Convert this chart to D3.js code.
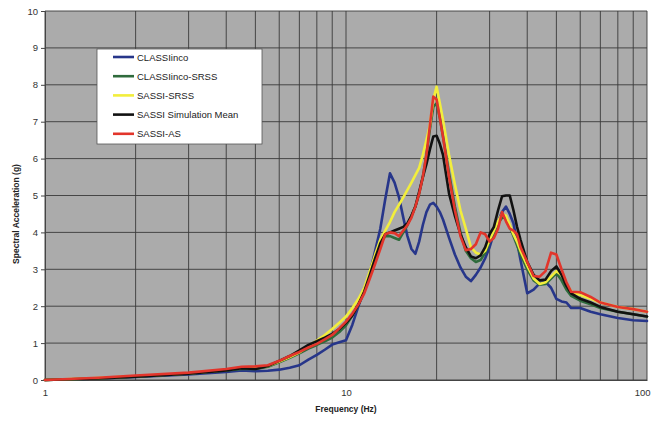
<!DOCTYPE html>
<html>
<head>
<meta charset="utf-8">
<script src="https://cdn.jsdelivr.net/npm/d3@7/dist/d3.min.js"></script>
<style>
  html, body { margin: 0; padding: 0; background: #ffffff; }
  svg { display: block; font-family: "Liberation Sans", Arial, sans-serif; }
</style>
</head>
<body>
<svg id="chart" width="651" height="421"></svg>
<script>
// Frequencies (Hz) shared by every response spectrum
const frequency = [1, 1.5, 2, 3, 4, 4.5, 5, 5.5, 6, 6.5, 7, 7.5, 8, 8.5, 9, 9.5, 10, 10.5, 11, 11.5,
  12, 12.5, 13, 13.5, 14, 14.5, 15, 15.5, 16, 16.5, 17, 17.5, 18, 18.5, 19, 19.5, 20, 20.5, 21, 22,
  23, 24, 25, 26, 27, 28, 29, 30, 31, 32, 33, 34, 35, 36, 37, 38, 40, 42, 44, 46,
  48, 50, 52, 54, 56, 60, 65, 70, 80, 90, 100];

// Spectral acceleration (g) for each analysis
const classiInco = [0, 0.04, 0.08, 0.15, 0.22, 0.26, 0.24, 0.25, 0.28, 0.33, 0.40, 0.55, 0.68, 0.82, 0.96, 1.02, 1.08, 1.5, 2.0, 2.45,
  2.9, 3.5, 4.1, 4.9, 5.6, 5.35, 4.95, 4.4, 3.9, 3.55, 3.42, 3.75, 4.2, 4.55, 4.75, 4.8, 4.7, 4.55, 4.35, 3.85,
  3.4, 3.05, 2.8, 2.68, 2.85, 3.05, 3.3, 3.6, 3.98, 4.3, 4.55, 4.7, 4.5, 4.25, 3.75, 3.25, 2.35, 2.45, 2.62, 2.66,
  2.5, 2.2, 2.13, 2.1, 1.95, 1.95, 1.85, 1.78, 1.68, 1.62, 1.6];

const classiIncoSrss = [0, 0.04, 0.09, 0.17, 0.26, 0.3, 0.3, 0.36, 0.48, 0.6, 0.72, 0.85, 0.95, 1.05, 1.15, 1.3, 1.48, 1.75, 2.05, 2.4,
  2.85, 3.3, 3.7, 3.9, 3.9, 3.85, 3.8, 4.0, 4.2, 4.45, 4.7, 5.05, 5.5, 6.1, 6.8, 7.4, 7.5, 7.1, 6.6, 5.6,
  4.7, 4.0, 3.5, 3.3, 3.2, 3.25, 3.45, 3.75, 4.0, 4.25, 4.4, 4.4, 4.15, 3.9, 3.65, 3.4, 3.0, 2.7, 2.58, 2.6,
  2.75, 2.9, 2.7, 2.45, 2.28, 2.15, 2.05, 1.95, 1.85, 1.78, 1.72];

const sassiSrss = [0, 0.05, 0.1, 0.18, 0.27, 0.33, 0.33, 0.38, 0.5, 0.62, 0.75, 0.92, 1.07, 1.22, 1.38, 1.55, 1.72, 1.95, 2.2, 2.5,
  2.95, 3.4, 3.8, 4.05, 4.28, 4.55, 4.75, 4.95, 5.15, 5.35, 5.55, 5.75, 6.1, 6.5, 6.9, 7.6, 7.95, 7.5, 7.05, 6.1,
  5.3, 4.6, 4.1, 3.6, 3.45, 3.4, 3.5, 3.8, 4.05, 4.3, 4.5, 4.45, 4.2, 3.95, 3.75, 3.5, 3.1, 2.75, 2.6, 2.65,
  2.8, 2.95, 2.85, 2.6, 2.4, 2.3, 2.2, 2.1, 1.98, 1.92, 1.85];

const sassiSimMean = [0, 0.04, 0.09, 0.17, 0.26, 0.32, 0.3, 0.38, 0.52, 0.65, 0.8, 0.95, 1.05, 1.15, 1.25, 1.38, 1.55, 1.75, 2.05, 2.4,
  2.85, 3.3, 3.7, 3.95, 4.0, 4.05, 4.1, 4.15, 4.25, 4.45, 4.7, 5.1, 5.5, 5.85, 6.25, 6.6, 6.62, 6.4, 6.1, 5.05,
  4.45, 3.95, 3.6, 3.35, 3.3, 3.38, 3.6, 3.95, 4.15, 4.6, 4.98, 5.0, 5.0, 4.6, 4.15, 3.8, 3.2, 2.85, 2.7, 2.72,
  2.95, 3.08, 2.85, 2.55, 2.35, 2.2, 2.1, 1.98, 1.85, 1.78, 1.72];

const sassiAs = [0, 0.06, 0.12, 0.2, 0.3, 0.36, 0.37, 0.4, 0.52, 0.65, 0.76, 0.88, 0.98, 1.1, 1.22, 1.4, 1.58, 1.8, 2.05, 2.35,
  2.75, 3.15, 3.55, 3.95, 4.0, 3.98, 3.9, 4.05, 4.2, 4.4, 4.7, 5.05, 5.5, 6.1, 6.9, 7.68, 7.6, 7.1, 6.6, 5.5,
  4.6, 3.9, 3.52, 3.55, 3.68, 4.0, 3.95, 3.75, 3.85, 4.1, 4.55, 4.3, 4.1, 4.05, 3.95, 3.6, 3.2, 2.82, 2.8, 2.95,
  3.45, 3.4, 3.0, 2.65, 2.39, 2.38, 2.25, 2.1, 1.98, 1.92, 1.85];

const seriesNames = ["CLASSIinco", "CLASSIinco-SRSS", "SASSI-SRSS", "SASSI Simulation Mean", "SASSI-AS"];
const seriesValues = [classiInco, classiIncoSrss, sassiSrss, sassiSimMean, sassiAs];
const seriesColors = ["#27368a", "#2f6b3c", "#f2ee3c", "#111111", "#e2352b"];

const xTickLabels = [1, 10, 100];
const yTickLabels = [0, 1, 2, 3, 4, 5, 6, 7, 8, 9, 10];

const svg = d3.select("#chart");
const plot = { left: 45, right: 647, top: 11, bottom: 380 };

const x = d3.scaleLog().domain([1, 100]).range([plot.left, plot.right]);
const y = d3.scaleLinear().domain([0, 10]).range([plot.bottom, plot.top]);

// plot background
svg.append("rect")
  .attr("x", plot.left).attr("y", plot.top)
  .attr("width", plot.right - plot.left).attr("height", plot.bottom - plot.top)
  .attr("fill", "#ababab");

// log grid: every integer multiple inside each decade
const grid = svg.append("g").attr("stroke", "#3a3a3a").attr("stroke-width", 0.9);
grid.selectAll("line.v").data(x.ticks()).join("line")
  .attr("class", "v")
  .attr("x1", d => x(d)).attr("x2", d => x(d))
  .attr("y1", plot.top).attr("y2", plot.bottom);
grid.selectAll("line.h").data(yTickLabels).join("line")
  .attr("class", "h")
  .attr("x1", plot.left).attr("x2", plot.right)
  .attr("y1", d => y(d)).attr("y2", d => y(d));

// axes
const yAxis = svg.append("g")
  .attr("transform", `translate(${plot.left},0)`)
  .call(d3.axisLeft(y).tickValues(yTickLabels).tickSize(4).tickPadding(3));
const xAxis = svg.append("g")
  .attr("transform", `translate(0,${plot.bottom})`)
  .call(d3.axisBottom(x).tickValues(xTickLabels).tickFormat(d3.format("d")).tickSize(0).tickPadding(9));
[yAxis, xAxis].forEach(a => {
  a.select(".domain").attr("stroke", "#444").attr("stroke-width", 1);
  a.selectAll(".tick line").attr("stroke", "#444");
  a.selectAll(".tick text").attr("fill", "#333").style("font-size", "9.5px")
    .style("font-family", "'Liberation Sans', Arial, sans-serif");
});
// keep the last frequency label inside the page edge
xAxis.selectAll(".tick text").filter(d => d === 100)
  .attr("text-anchor", "end").attr("dx", 3);

// axis titles
svg.append("text")
  .attr("x", (plot.left + plot.right) / 2).attr("y", 412)
  .attr("text-anchor", "middle")
  .style("font-size", "8.5px").style("font-weight", "bold").attr("fill", "#222")
  .text("Frequency (Hz)");
svg.append("text")
  .attr("transform", "translate(19,214) rotate(-90)")
  .attr("text-anchor", "middle")
  .style("font-size", "8.5px").style("font-weight", "bold").attr("fill", "#222")
  .text("Spectral Acceleration (g)");

// spectra
const line = d3.line()
  .x((d, i) => x(frequency[i]))
  .y(d => y(d))
  .curve(d3.curveLinear);
const lines = svg.append("g");
seriesValues.forEach((vals, k) => {
  lines.append("path")
    .datum(vals)
    .attr("fill", "none")
    .attr("stroke", seriesColors[k])
    .attr("stroke-width", 2.6)
    .attr("stroke-linejoin", "round")
    .attr("stroke-linecap", "round")
    .attr("d", line);
});

// legend
const legend = svg.append("g").attr("transform", "translate(97,49)");
legend.append("rect")
  .attr("width", 165).attr("height", 95)
  .attr("fill", "#ffffff").attr("stroke", "#555").attr("stroke-width", 0.8);
seriesNames.forEach((name, k) => {
  const row = legend.append("g").attr("transform", `translate(0,${8 + k * 19.2})`);
  row.append("line")
    .attr("x1", 16).attr("x2", 37).attr("y1", 0).attr("y2", 0)
    .attr("stroke", seriesColors[k]).attr("stroke-width", 2.6);
  row.append("text")
    .attr("x", 40).attr("y", 3.5)
    .style("font-size", "9.5px").attr("fill", "#222")
    .text(name);
});
</script>
</body>
</html>
